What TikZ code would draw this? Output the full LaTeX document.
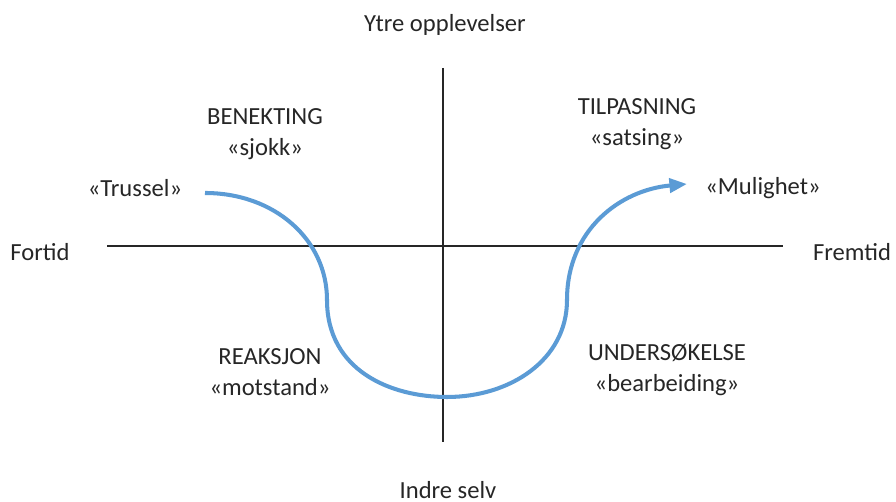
\documentclass[tikz,border=0pt]{standalone}
\usepackage{fontspec}
\setmainfont{Carlito}
\usetikzlibrary{arrows.meta,positioning}
\definecolor{kurveblaa}{RGB}{91,155,213}

\begin{document}
\begin{tikzpicture}[
    x=0.02cm, y=-0.02cm,
    txt/.style={font=\fontsize{14}{18}\selectfont, text=black!85, align=center, inner sep=1pt},
    akse/.style={line width=0.8pt, black!85},
    kurve/.style={line width=2.3pt, kurveblaa, -{Triangle[length=10pt,width=8pt]}}
]
\useasboundingbox (0,0) rectangle (896,502);

% akser
\coordinate (opp) at (443,68);
\coordinate (ned) at (443,442);
\coordinate (venstre) at (107,246);
\coordinate (hoyre) at (783,246);
\draw[akse] (opp) -- (ned);
\draw[akse] (venstre) -- (hoyre);

% aksetekster
\node[txt] (ytre) at (445,25) {Ytre opplevelser};
\node[txt] (indre) at (448,490) {Indre selv};
\node[txt] (fortid) at (40,252) {Fortid};
\node[txt] (fremtid) at (852,252) {Fremtid};

% faser
\node[txt] (benekting) at (265,134) {BENEKTING\\«sjokk»};
\node[txt] (tilpasning) at (637,124) {TILPASNING\\«satsing»};
\node[txt] (reaksjon) at (270,372) {REAKSJON\\«motstand»};
\node[txt] (undersok) at (667,370) {UNDERSØKELSE\\«bearbeiding»};
\node[txt] (trussel) at (135,188) {«Trussel»};
\node[txt] (mulighet) at (763,188) {«Mulighet»};

% endringskurve
\coordinate (start) at (205,193);
\coordinate (slutt) at (687,184);
\draw[kurve] (start) .. controls (275,193) and (327,240) .. (327,300)
    .. controls (327,370) and (390,397) .. (447,397)
    .. controls (510,397) and (567,360) .. (567,300)
    .. controls (567,230) and (620,190) .. (slutt);
\end{tikzpicture}
\end{document}
